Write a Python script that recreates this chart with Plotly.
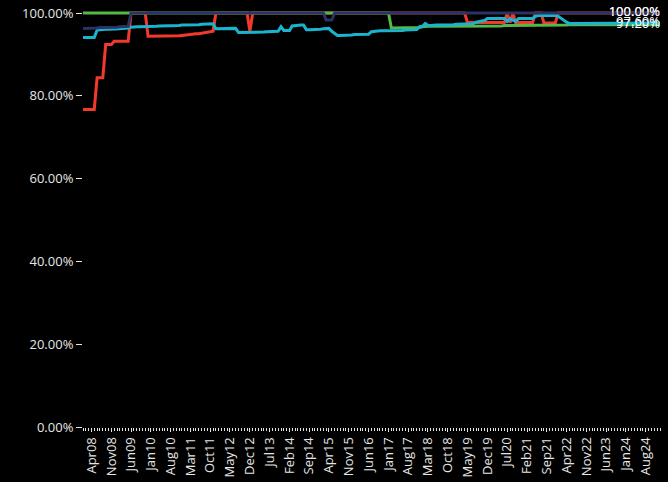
import plotly.graph_objects as go
import pandas as pd

# Monthly observations, Jan 2008 .. Jan 2025 (one row per year), in percent
months = pd.date_range("2008-01-01", "2025-01-01", freq="MS")

red = [
    76.7, 76.7, 76.7, 76.7, 76.7, 84.4, 84.4, 84.4, 92.4, 92.4, 92.4, 93.2,  # 2008
    93.2, 93.2, 93.2, 93.2, 93.2, 100, 100, 100, 100, 100, 100, 94.4,        # 2009
    94.4, 94.4, 94.4, 94.4, 94.4, 94.4, 94.5, 94.5, 94.5, 94.5, 94.5, 94.6,  # 2010
    94.7, 94.8, 94.8, 94.9, 95.0, 95.0, 95.1, 95.2, 95.3, 95.5, 95.6, 100,   # 2011
    100, 100, 100, 100, 100, 100, 100, 100, 100, 100, 100, 95.6,             # 2012
    100, 100, 100, 100, 100, 100, 100, 100, 100, 100, 100, 100,              # 2013
    100, 100, 100, 100, 100, 100, 100, 100, 100, 100, 100, 100,              # 2014
    100, 100, 100, 100, 100, 100, 100, 100, 100, 100, 100, 100,              # 2015
    100, 100, 100, 100, 100, 100, 100, 100, 100, 100, 100, 100,              # 2016
    100, 100, 100, 100, 100, 100, 100, 100, 100, 100, 100, 100,              # 2017
    100, 100, 100, 100, 100, 100, 100, 100, 100, 100, 100, 100,              # 2018
    100, 100, 100, 100, 97.7, 97.7, 97.7, 97.7, 97.7, 97.7, 97.7, 97.7,      # 2019
    97.7, 97.7, 97.7, 97.7, 97.7, 97.7, 100, 97.7, 100, 97.7, 97.7, 97.7,    # 2020
    97.7, 97.7, 97.7, 97.7, 100, 100, 100, 97.6, 97.6, 97.6, 97.6, 97.6,     # 2021
    100, 100, 100, 100, 100, 100, 100, 100, 100, 100, 100, 100,              # 2022
    100, 100, 100, 100, 100, 100, 100, 100, 100, 100, 100, 100,              # 2023
    100, 100, 100, 100, 100, 100, 100, 100, 100, 100, 100, 100,              # 2024
    100,                                                                     # 2025
]

green = [
    100, 100, 100, 100, 100, 100, 100, 100, 100, 100, 100, 100,              # 2008
    100, 100, 100, 100, 100, 100, 100, 100, 100, 100, 100, 100,              # 2009
    100, 100, 100, 100, 100, 100, 100, 100, 100, 100, 100, 100,              # 2010
    100, 100, 100, 100, 100, 100, 100, 100, 100, 100, 100, 100,              # 2011
    100, 100, 100, 100, 100, 100, 100, 100, 100, 100, 100, 100,              # 2012
    100, 100, 100, 100, 100, 100, 100, 100, 100, 100, 100, 100,              # 2013
    100, 100, 100, 100, 100, 100, 100, 100, 100, 100, 100, 100,              # 2014
    100, 100, 100, 100, 100, 100, 100, 100, 100, 100, 100, 100,              # 2015
    100, 100, 100, 100, 100, 100, 100, 100, 100, 100, 100, 100,              # 2016
    100, 96.4, 96.4, 96.4, 96.4, 96.4, 96.4, 96.4, 96.4, 96.4, 96.4, 96.5,   # 2017
    96.7, 96.8, 96.8, 96.8, 96.8, 96.8, 96.8, 96.8, 96.8, 96.8, 96.8, 96.8,  # 2018
    96.8, 96.8, 96.8, 96.8, 96.8, 96.8, 96.8, 96.9, 96.9, 96.9, 96.9, 96.9,  # 2019
    96.9, 96.9, 96.9, 96.9, 96.9, 97.0, 97.0, 97.0, 97.0, 97.0, 97.1, 97.1,  # 2020
    97.1, 97.1, 97.1, 97.1, 97.1, 97.1, 97.1, 97.1, 97.1, 97.1, 97.1, 97.1,  # 2021
    97.1, 97.1, 97.1, 97.1, 97.2, 97.2, 97.2, 97.2, 97.2, 97.2, 97.2, 97.2,  # 2022
    97.2, 97.2, 97.2, 97.2, 97.2, 97.2, 97.2, 97.2, 97.2, 97.2, 97.2, 97.2,  # 2023
    97.2, 97.2, 97.2, 97.2, 97.2, 97.2, 97.2, 97.2, 97.2, 97.2, 97.2, 97.2,  # 2024
    97.2,                                                                    # 2025
]

cyan = [
    94.1, 94.1, 94.1, 94.1, 94.1, 95.9, 96.0, 96.0, 96.1, 96.1, 96.1, 96.2,  # 2008
    96.2, 96.2, 96.3, 96.3, 96.4, 96.6, 96.7, 96.7, 96.7, 96.7, 96.8, 96.8,  # 2009
    96.8, 96.8, 96.8, 96.9, 96.9, 96.9, 96.9, 97.0, 97.0, 97.0, 97.0, 97.1,  # 2010
    97.1, 97.1, 97.1, 97.2, 97.2, 97.2, 97.3, 97.3, 97.3, 97.4, 97.4, 96.2,  # 2011
    96.2, 96.2, 96.2, 96.2, 96.3, 96.3, 96.3, 95.3, 95.3, 95.3, 95.3, 95.3,  # 2012
    95.3, 95.3, 95.4, 95.4, 95.4, 95.5, 95.5, 95.5, 95.6, 95.6, 96.7, 95.8,  # 2013
    95.8, 95.8, 96.9, 97.0, 97.0, 97.1, 97.1, 96.0, 96.0, 96.0, 96.0, 96.0,  # 2014
    96.1, 96.2, 96.2, 96.3, 95.6, 95.0, 94.6, 94.6, 94.6, 94.7, 94.7, 94.7,  # 2015
    94.8, 94.8, 94.8, 94.8, 94.9, 94.9, 95.5, 95.6, 95.6, 95.7, 95.7, 95.7,  # 2016
    95.7, 95.7, 95.8, 95.8, 95.8, 95.8, 95.9, 95.9, 95.9, 96.0, 96.0, 96.7,  # 2017
    96.8, 97.5, 97.0, 97.0, 97.1, 97.1, 97.1, 97.1, 97.2, 97.2, 97.2, 97.2,  # 2018
    97.3, 97.3, 97.3, 97.3, 97.4, 97.4, 97.4, 97.8, 98.0, 98.1, 98.2, 98.7,  # 2019
    98.7, 98.7, 98.7, 98.7, 98.7, 98.7, 98.0, 98.6, 98.3, 98.0, 98.7, 98.7,  # 2020
    98.7, 98.7, 98.7, 98.7, 99.2, 99.4, 99.4, 99.4, 99.4, 99.4, 99.4, 99.4,  # 2021
    99.2, 98.8, 98.3, 97.8, 97.5, 97.5, 97.5, 97.5, 97.6, 97.6, 97.6, 97.6,  # 2022
    97.6, 97.6, 97.6, 97.6, 97.6, 97.6, 97.6, 97.6, 97.6, 97.6, 97.6, 97.6,  # 2023
    97.6, 97.6, 97.6, 97.6, 97.6, 97.6, 97.6, 97.6, 97.6, 97.6, 97.6, 97.6,  # 2024
    97.6,                                                                    # 2025
]

navy = [
    96.3, 96.3, 96.3, 96.4, 96.4, 96.4, 96.5, 96.5, 96.5, 96.5, 96.6, 96.6,  # 2008
    96.6, 96.7, 96.7, 96.7, 96.8, 100, 100, 100, 100, 100, 100, 100,         # 2009
    100, 100, 100, 100, 100, 100, 100, 100, 100, 100, 100, 100,              # 2010
    100, 100, 100, 100, 100, 100, 100, 100, 100, 100, 100, 100,              # 2011
    100, 100, 100, 100, 100, 100, 100, 100, 100, 100, 100, 100,              # 2012
    100, 100, 100, 100, 100, 100, 100, 100, 100, 100, 100, 100,              # 2013
    100, 100, 100, 100, 100, 100, 100, 100, 100, 100, 100, 100,              # 2014
    100, 100, 98.3, 98.3, 98.3, 100, 100, 100, 100, 100, 100, 100,           # 2015
    100, 100, 100, 100, 100, 100, 100, 100, 100, 100, 100, 100,              # 2016
    100, 100, 100, 100, 100, 100, 100, 100, 100, 100, 100, 100,              # 2017
    100, 100, 100, 100, 100, 100, 100, 100, 100, 100, 100, 100,              # 2018
    100, 100, 100, 100, 100, 100, 100, 100, 100, 100, 100, 100,              # 2019
    100, 100, 100, 100, 100, 100, 100, 100, 100, 100, 100, 100,              # 2020
    100, 100, 100, 100, 100, 100, 100, 100, 100, 100, 100, 100,              # 2021
    100, 100, 100, 100, 100, 100, 100, 100, 100, 100, 100, 100,              # 2022
    100, 100, 100, 100, 100, 100, 100, 100, 100, 100, 100, 100,              # 2023
    100, 100, 100, 100, 100, 100, 100, 100, 100, 100, 100, 100,              # 2024
    100,                                                                     # 2025
]

series = [
    ("red", red, "#f4392c"),
    ("green", green, "#55b748"),
    ("cyan", cyan, "#1ab4cf"),
    ("navy", navy, "#2b3362"),
]

FONT = "Open Sans, Noto Sans, sans-serif"
fig = go.Figure()
for name, vals, color in series:
    frac = [v / 100 for v in vals]
    labels = [""] * (len(vals) - 1) + [f"{vals[-1]:.2f}%"]
    fig.add_trace(go.Scatter(
        x=months, y=frac, name=name, mode="lines+text",
        line=dict(color=color, width=3),
        text=labels, textposition="middle left",
        textfont=dict(family=FONT, size=13, color="#ffffff"),
        cliponaxis=False, showlegend=False, hoverinfo="skip",
    ))

fig.update_layout(
    template="none",
    width=668, height=482,
    margin=dict(l=83, r=8, t=11, b=55, autoexpand=False),
    paper_bgcolor="#000000", plot_bgcolor="#000000",
    font=dict(family=FONT, size=13, color="#e6e6e6"),
    showlegend=False,
)
fig.update_xaxes(
    type="date", range=["2008-01-01", "2025-01-01"], automargin=False,
    tickmode="linear", tick0="2008-04-01", dtick="M7", tickformat="%b%y",
    tickangle=-90, ticks="outside", ticklen=4, tickcolor="#e6e6e6", tickwidth=1,
    minor=dict(dtick="M1", ticks="outside", ticklen=3, tickcolor="#e6e6e6", tickwidth=1),
    showgrid=False, zeroline=False, showline=False,
    tickfont=dict(family=FONT, size=13, color="#e6e6e6"),
)
fig.update_yaxes(
    range=[0, 1.005], tickvals=[0, 0.2, 0.4, 0.6, 0.8, 1.0], automargin=False,
    tickformat=".2%",
    ticks="outside", ticklen=6, tickcolor="#e6e6e6", tickwidth=1,
    showgrid=False, zeroline=False, showline=False,
    tickfont=dict(family=FONT, size=13, color="#e6e6e6"),
)

fig.write_html(
    "out.html",
    config={"displayModeBar": False},
    post_script="document.body.style.margin='0';document.body.style.background='#000';",
)
